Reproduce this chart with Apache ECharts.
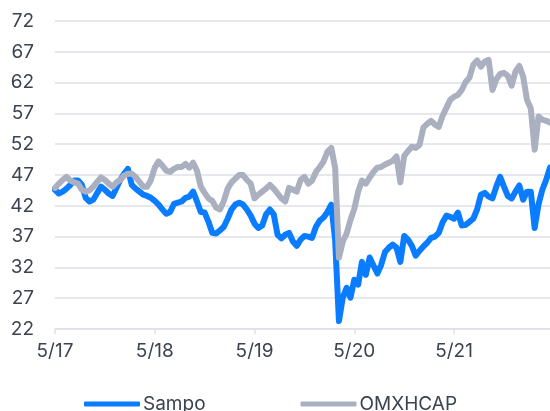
<!DOCTYPE html>
<html>
<head>
<meta charset="utf-8">
<script src="https://cdn.jsdelivr.net/npm/echarts@6/dist/echarts.min.js"></script>
<style>
html,body{margin:0;padding:0;background:#fff;}
#chart{width:550px;height:411px;}
</style>
</head>
<body>
<div id="chart"></div>
<script>
// Biweekly observations starting May 2017
var startDate = '2017-05-01';
var stepDays = 14;
var xTickLabels = ['5/17', '5/18', '5/19', '5/20', '5/21'];
var pointsPerYear = 26;

var sampo = [
  44.6, 44.0, 44.3, 44.8, 45.4, 46.1, 46.1, 45.4, 43.3, 42.7,
  43.0, 44.1, 45.1, 44.6, 44.0, 43.6, 44.9, 46.2, 47.2, 48.0,
  45.4, 44.8, 44.3, 43.8, 43.6, 43.3, 42.8, 42.2, 41.4, 40.7,
  41.0, 42.3, 42.5, 42.7, 43.3, 43.5, 44.3, 42.7, 41.0, 40.9,
  39.4, 37.6, 37.5, 38.0, 38.6, 39.9, 41.4, 42.2, 42.5, 42.2,
  41.4, 40.4, 39.1, 38.4, 38.8, 40.6, 41.4, 40.6, 37.3, 36.7,
  37.3, 37.6, 36.2, 35.5, 36.5, 37.1, 37.0, 36.8, 38.6, 39.6,
  40.1, 41.0, 42.2, 36.5, 23.3, 27.1, 28.7, 27.1, 30.0, 29.2,
  32.9, 30.8, 33.6, 32.3, 31.0, 32.4, 34.5, 35.2, 35.7, 35.2,
  32.9, 37.1, 36.5, 35.5, 33.9, 34.7, 35.4, 36.0, 36.8, 37.0,
  37.6, 39.3, 40.4, 40.2, 39.9, 40.9, 38.8, 38.9, 39.4, 39.9,
  41.4, 43.8, 44.1, 43.5, 43.2, 45.1, 46.7, 45.1, 43.6, 43.2,
  44.3, 45.3, 43.0, 44.3, 44.3, 38.4, 42.2, 44.6, 46.2, 48.2
];

var omxhcap = [
  44.9, 45.6, 46.2, 46.7, 46.1, 45.8, 45.6, 44.6, 44.3, 44.5,
  45.1, 45.9, 46.6, 46.2, 45.6, 45.1, 45.8, 46.2, 46.9, 47.2,
  47.2, 46.7, 45.9, 45.1, 45.1, 46.2, 48.2, 49.2, 48.5, 47.7,
  47.5, 48.0, 48.3, 48.3, 48.8, 48.2, 49.0, 47.7, 45.1, 44.1,
  43.2, 42.8, 41.7, 41.4, 42.8, 44.8, 45.8, 46.4, 47.0, 47.0,
  46.2, 45.6, 43.2, 43.8, 44.3, 44.8, 45.4, 44.8, 44.0, 43.2,
  42.7, 44.9, 44.6, 44.3, 46.2, 46.7, 45.6, 46.1, 47.5, 48.3,
  49.2, 50.8, 51.4, 48.2, 33.6, 36.2, 37.5, 39.7, 41.5, 44.3,
  46.1, 45.6, 46.6, 47.5, 48.2, 48.3, 48.7, 49.0, 49.3, 50.0,
  45.8, 50.1, 50.9, 51.6, 51.4, 51.9, 54.7, 55.3, 55.8, 55.2,
  54.8, 56.6, 57.9, 59.2, 59.7, 60.0, 60.8, 62.1, 62.8, 64.9,
  65.6, 64.6, 65.4, 65.7, 60.8, 62.5, 63.4, 63.6, 63.1, 61.5,
  63.8, 64.7, 63.0, 59.2, 57.8, 51.1, 56.5, 56.0, 55.8, 55.5
];

var categories = [];
(function () {
  var d0 = new Date(startDate + 'T00:00:00Z');
  for (var i = 0; i < sampo.length; i++) {
    var d = new Date(d0.getTime() + i * stepDays * 86400000);
    categories.push(d.toISOString().slice(0, 10));
  }
})();

function isYearTick(index) { return index % pointsPerYear === 0; }

var textColor = '#3b4250';
var gridColor = '#dfe0e7';
var fontFamily = 'Inter, "Noto Sans", sans-serif';

var chart = echarts.init(document.getElementById('chart'), null, {renderer: 'canvas'});
chart.setOption({
  animation: false,
  backgroundColor: '#ffffff',
  grid: {left: 55, right: 0, top: 21, bottom: 82, containLabel: false},
  legend: {
    left: 84,
    top: 394,
    padding: 0,
    icon: 'roundRect',
    itemWidth: 56,
    itemHeight: 5,
    itemGap: 95,
    textStyle: {color: textColor, fontSize: 19, fontFamily: fontFamily, lineHeight: 20, padding: [0, 0, 0, -2]},
    data: ['Sampo', 'OMXHCAP']
  },
  xAxis: {
    type: 'category',
    data: categories,
    boundaryGap: false,
    axisLine: {show: true, lineStyle: {color: gridColor, width: 1.5}},
    axisTick: {show: true, length: 5, interval: function (i) { return isYearTick(i); }, lineStyle: {color: gridColor, width: 1.5}},
    axisLabel: {
      interval: function (i) { return isYearTick(i); },
      formatter: function (v, i) { return xTickLabels[Math.round(i / pointsPerYear)] || ''; },
      color: textColor, fontSize: 19, fontFamily: fontFamily, margin: 13
    },
    splitLine: {show: false}
  },
  yAxis: {
    type: 'value',
    min: 22,
    max: 72,
    interval: 5,
    axisLine: {show: false},
    axisTick: {show: false},
    axisLabel: {color: textColor, fontSize: 19, fontFamily: fontFamily, margin: 21},
    splitLine: {show: true, lineStyle: {color: gridColor, width: 1.5}}
  },
  series: [
    {
      name: 'Sampo', type: 'line', data: sampo, showSymbol: false, symbol: 'none',
      lineStyle: {color: '#0a7cff', width: 6, join: 'round', cap: 'round'},
      itemStyle: {color: '#0a7cff'}
    },
    {
      name: 'OMXHCAP', type: 'line', data: omxhcap, showSymbol: false, symbol: 'none',
      lineStyle: {color: '#abb0c0', width: 6, join: 'round', cap: 'round'},
      itemStyle: {color: '#abb0c0'}
    }
  ]
});
</script>
</body>
</html>
